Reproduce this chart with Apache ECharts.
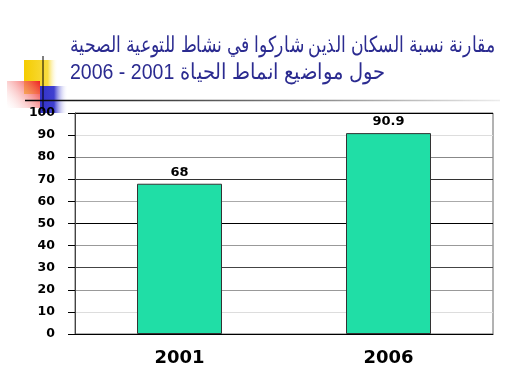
<!DOCTYPE html>
<html><head><meta charset="utf-8">
<script src="https://cdn.jsdelivr.net/npm/echarts@6/dist/echarts.min.js"></script>
<style>html,body{margin:0;padding:0;background:#fff}#c{width:512px;height:384px}</style>
</head><body><div id="c"></div>
<script>
const categories = ['2001', '2006'];
const values = [68, 90.9];
const yTicks = [0, 10, 20, 30, 40, 50, 60, 70, 80, 90, 100];
const titleLine1 = 'مقارنة نسبة السكان الذين شاركوا في نشاط للتوعية الصحية';
const titleLine2 = 'حول مواضيع انماط الحياة 2001 - 2006';

const titleFont = '22px "Liberation Sans", Arial';
const mctx = document.createElement('canvas').getContext('2d');
mctx.font = titleFont;
function fitScale(text, target) {
  const w = mctx.measureText(text).width;
  return w > 0 ? target / w : 1;
}

const chart = echarts.init(document.getElementById('c'), null, {renderer: 'canvas'});
chart.setOption({
  animation: false,
  backgroundColor: '#fff',
  grid: {left: 75, right: 19, top: 113, bottom: 50, show: true, borderColor: '#666', borderWidth: 1},
  xAxis: {
    type: 'category', data: categories,
    axisLine: {show: true, lineStyle: {color: '#000', width: 1}},
    axisTick: {show: false},
    axisLabel: {fontFamily: 'DejaVu Sans', fontWeight: 'bold', fontSize: 18, color: '#000', margin: 15}
  },
  yAxis: {
    type: 'value', min: yTicks[0], max: yTicks[yTicks.length - 1], interval: 10,
    axisLine: {show: true, lineStyle: {color: '#444'}},
    axisTick: {show: true, length: 7, lineStyle: {color: '#000'}},
    axisLabel: {fontFamily: 'DejaVu Sans', fontWeight: 'bold', fontSize: 12.5, color: '#000', margin: 20},
    splitLine: {show: true, lineStyle: {color: ['#000', '#ddd', '#999', '#444', '#999', '#000', '#aaa', '#333', '#888', '#ddd', '#000'], width: 1}}
  },
  series: [{
    type: 'bar', data: values, barWidth: 85,
    itemStyle: {color: '#20DEA6', borderColor: '#333', borderWidth: 1},
    label: {show: true, position: 'top', distance: 5, fontFamily: 'DejaVu Sans', fontWeight: 'bold', fontSize: 13, color: '#000'}
  }],
  graphic: [
    {type: 'rect', shape: {x: 24, y: 60, width: 34, height: 34}, style: {fill: new echarts.graphic.LinearGradient(0, 0, 1, 0, [{offset: 0, color: '#F5CC00'}, {offset: 0.7, color: '#F8DC40'}, {offset: 1, color: 'rgba(255,255,255,0)'}])}},
    {type: 'rect', shape: {x: 7, y: 81, width: 33, height: 27}, style: {fill: new echarts.graphic.LinearGradient(1, 0, 0, 1, [{offset: 0, color: '#EE2020'}, {offset: 1, color: 'rgba(255,255,255,0.2)'}])}},
    {type: 'rect', shape: {x: 40, y: 86, width: 28, height: 27}, style: {fill: new echarts.graphic.LinearGradient(0, 0, 1, 0, [{offset: 0, color: '#3232C8'}, {offset: 0.5, color: '#4040D0'}, {offset: 1, color: 'rgba(255,255,255,0)'}])}},
    {type: 'line', shape: {x1: 43, y1: 56, x2: 43, y2: 111}, style: {stroke: '#000', lineWidth: 1}},
    {type: 'line', shape: {x1: 25, y1: 100.5, x2: 500, y2: 100.5}, style: {stroke: new echarts.graphic.LinearGradient(0, 0, 1, 0, [{offset: 0, color: '#000'}, {offset: 0.6, color: '#888'}, {offset: 1, color: '#eee'}]), lineWidth: 1.5}},
    {type: 'text', x: 70, y: 35, scaleX: fitScale(titleLine1, 425), style: {text: titleLine1, font: titleFont, fill: '#2B2B90', align: 'left', verticalAlign: 'top'}},
    {type: 'text', x: 70, y: 62, scaleX: fitScale(titleLine2, 315), style: {text: titleLine2, font: titleFont, fill: '#2B2B90', align: 'left', verticalAlign: 'top'}}
  ]
});
</script></body></html>
